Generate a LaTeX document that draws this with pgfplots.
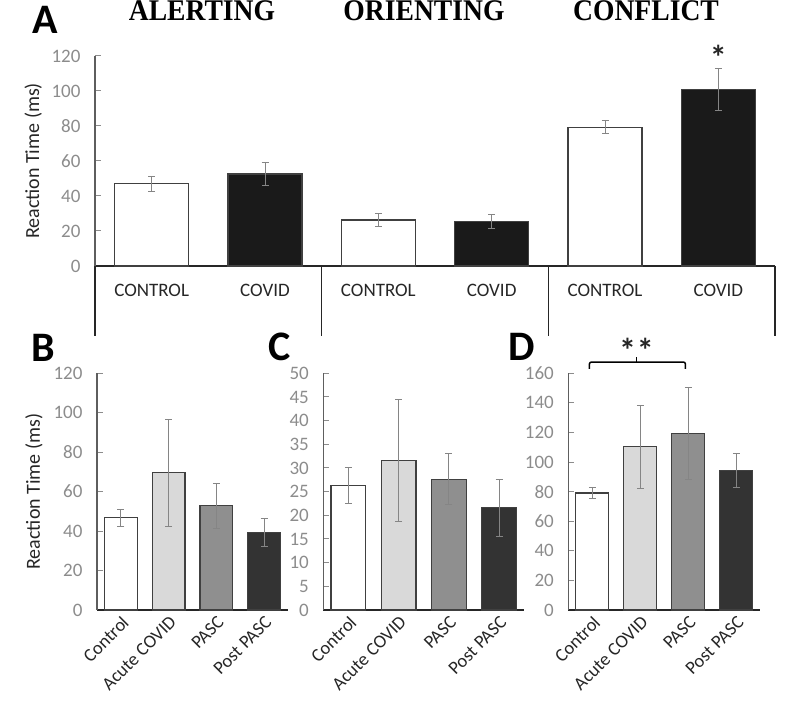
\documentclass[border=0pt]{standalone}
\usepackage{graphicx}
\usepackage{pgfplots}
\pgfplotsset{compat=1.18}
\usepackage{fontspec}
\setmainfont{Carlito}
\newfontfamily\titlefont{Liberation Serif}

\definecolor{axgray}{HTML}{5E5E5E}
\definecolor{tickgray}{HTML}{8C8C8C}
\definecolor{errgray}{HTML}{858585}
\definecolor{edgegray}{HTML}{404040}
\definecolor{labelgray}{HTML}{262626}
\definecolor{lightbar}{HTML}{D9D9D9}
\definecolor{midbar}{HTML}{8F8F8F}
\definecolor{darkbar}{HTML}{333333}
\definecolor{blackbar}{HTML}{1A1A1A}

\pgfplotsset{
  rtaxis/.style={
    scale only axis,
    axis x line=bottom, axis y line=left,
    axis line style={-, line width=1.2pt},
    x axis line style={labelgray},
    y axis line style={axgray},
    ymin=0,
    tick align=inside,
    major tick length=6pt,
    ytick style={tickgray, line width=1pt},
    xtick style={draw=none},
    /pgf/number format/assume math mode=true,
    yticklabel style={font=\fontsize{19}{19}\selectfont, text=tickgray, xshift=-11pt},
    ylabel style={font=\fontsize{20}{20}\selectfont, text=labelgray},
    error bars/y dir=both, error bars/y explicit,
    error bars/error bar style={errgray, line width=0.9pt},
    error bars/error mark options={rotate=90, errgray, line width=0.9pt, mark size=3.5pt},
    clip=false,
  },
  rtbar/.style={ybar, bar shift=0pt, draw=edgegray, line width=1.2pt, fill=#1},
  small4/.style={
    rtaxis,
    xmin=-0.5, xmax=3.5,
    height=236.7pt,
    xtick={0,1,2,3},
    xticklabels={Control,Acute COVID,PASC,Post PASC},
    xticklabel style={font=\fontsize{18.5}{18.5}\selectfont, text=labelgray, rotate=45, anchor=north east},
    every axis plot/.append style={bar width=0.69},
  },
}

\begin{document}
\begin{tikzpicture}
\path[use as bounding box] (0,0) rectangle (787pt,709pt);

% titles and panel letters
\node[font=\titlefont\bfseries\fontsize{30}{30}\selectfont, anchor=base] at (202pt,688pt) {\scalebox{0.92}[1]{ALERTING}};
\node[font=\titlefont\bfseries\fontsize{30}{30}\selectfont, anchor=base] at (424pt,688pt) {\scalebox{0.92}[1]{ORIENTING}};
\node[font=\titlefont\bfseries\fontsize{30}{30}\selectfont, anchor=base] at (646pt,688pt) {\scalebox{0.92}[1]{CONFLICT}};
\node[font=\bfseries\fontsize{42}{42}\selectfont, anchor=base west, inner sep=0pt] at (32pt,675pt) {A};
\node[font=\bfseries\fontsize{42}{42}\selectfont, anchor=base west, inner sep=0pt] at (31pt,347pt) {B};
\node[font=\bfseries\fontsize{42}{42}\selectfont, anchor=base west, inner sep=0pt] at (268pt,348pt) {C};
\node[font=\bfseries\fontsize{42}{42}\selectfont, anchor=base west, inner sep=0pt] at (508pt,348pt) {D};

% panel A
\begin{axis}[
  rtaxis,
  at={(95pt,443pt)}, anchor=south west,
  width=680pt, height=210pt,
  xmin=-0.5, xmax=5.5, ymax=120,
  ytick={0,20,...,120},
  xtick={0,...,5},
  xticklabels={CONTROL,COVID,CONTROL,COVID,CONTROL,COVID},
  xticklabel style={font=\fontsize{19}{19}\selectfont, text=labelgray, yshift=-15pt},
  ylabel={Reaction Time (ms)},
  ylabel style={at={(axis description cs:-0.091,0.5)}, anchor=center},
  every axis plot/.append style={bar width=0.653},
]
\addplot[rtbar=white] coordinates {
  (0,47.0) +- (0,4.2)
  (2,26.3) +- (0,3.8)
  (4,79.3) +- (0,3.7)
};
\addplot[rtbar=blackbar] coordinates {
  (1,52.6) +- (0,6.7)
  (3,25.5) +- (0,4.0)
  (5,100.8) +- (0,12.1)
};
\draw[labelgray, line width=1.2pt] (axis cs:-0.5,0) -- (axis cs:-0.5,-40);
\draw[labelgray, line width=1.2pt] (axis cs:1.5,0) -- (axis cs:1.5,-40);
\draw[labelgray, line width=1.2pt] (axis cs:3.5,0) -- (axis cs:3.5,-40);
\draw[labelgray, line width=1.2pt] (axis cs:5.5,0) -- (axis cs:5.5,-40);
\node[font=\bfseries\fontsize{34}{34}\selectfont, text=labelgray] at (axis cs:5,119) {*};
\end{axis}

% panel B
\begin{axis}[
  small4,
  at={(97pt,99pt)}, anchor=south west,
  width=191pt,
  ymax=120, ytick={0,20,...,120},
  ylabel={Reaction Time (ms)},
  ylabel style={at={(axis description cs:-0.33,0.5)}, anchor=center},
]
\addplot[rtbar=white] coordinates {(0,46.7) +- (0,4.1)};
\addplot[rtbar=lightbar] coordinates {(1,69.6) +- (0,27.0)};
\addplot[rtbar=midbar] coordinates {(2,52.9) +- (0,11.4)};
\addplot[rtbar=darkbar] coordinates {(3,39.4) +- (0,7.0)};
\end{axis}

% panel C
\begin{axis}[
  small4,
  at={(323.3pt,99pt)}, anchor=south west,
  width=201pt,
  ymax=50, ytick={0,5,...,50},
]
\addplot[rtbar=white] coordinates {(0,26.3) +- (0,3.8)};
\addplot[rtbar=lightbar] coordinates {(1,31.5) +- (0,12.9)};
\addplot[rtbar=midbar] coordinates {(2,27.6) +- (0,5.4)};
\addplot[rtbar=darkbar] coordinates {(3,21.6) +- (0,6.0)};
\end{axis}

% panel D
\begin{axis}[
  small4,
  at={(568.3pt,99pt)}, anchor=south west,
  width=192pt,
  ymax=160, ytick={0,20,...,160},
]
\addplot[rtbar=white] coordinates {(0,79.1) +- (0,3.8)};
\addplot[rtbar=lightbar] coordinates {(1,110.4) +- (0,28.0)};
\addplot[rtbar=midbar] coordinates {(2,119.4) +- (0,31.0)};
\addplot[rtbar=darkbar] coordinates {(3,94.2) +- (0,11.5)};
\draw[black, line width=1.5pt, rounded corners=2pt] (axis cs:-0.06,163) -- (axis cs:-0.06,167.6) -- (axis cs:1.94,167.6) -- (axis cs:1.94,163);
\draw[black, line width=1.5pt] (axis cs:0.92,167.6) -- (axis cs:0.92,171);
\node[font=\bfseries\fontsize{34}{34}\selectfont, text=labelgray] at (axis cs:0.92,175.5) {*\hspace{1pt}*};
\end{axis}
\end{tikzpicture}
\end{document}
